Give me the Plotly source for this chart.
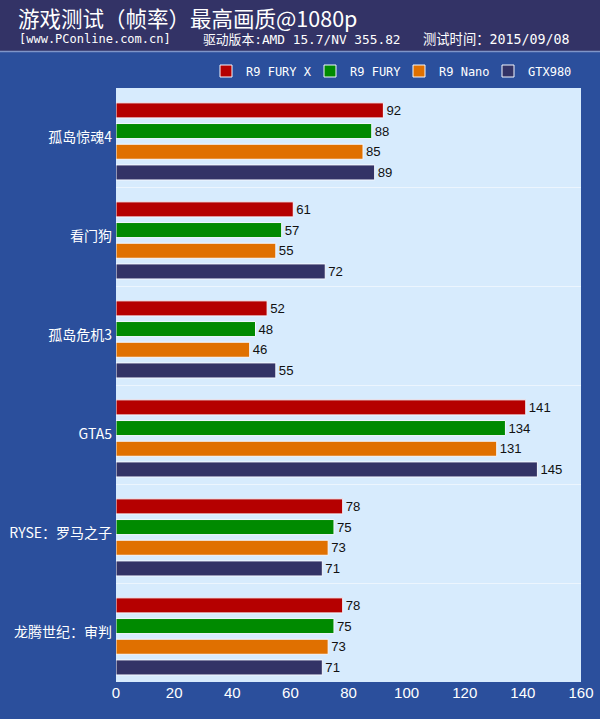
import plotly.graph_objects as go

games = ["孤岛惊魂4", "看门狗", "孤岛危机3", "GTA5", "RYSE：罗马之子", "龙腾世纪：审判"]
series_names = ["R9 FURY X", "R9 FURY", "R9 Nano", "GTX980"]
fury_x = [92, 61, 52, 141, 78, 78]
fury = [88, 57, 48, 134, 75, 75]
nano = [85, 55, 46, 131, 73, 73]
gtx980 = [89, 72, 55, 145, 71, 71]
series_values = [fury_x, fury, nano, gtx980]
series_colors = ["#B50000", "#008A00", "#E07000", "#333366"]
x_ticks = [0, 20, 40, 60, 80, 100, 120, 140, 160]

title_text = "游戏测试（帧率）最高画质@1080p"
sub1 = "[www.PConline.com.cn]"
sub2 = "驱动版本:AMD 15.7/NV 355.82"
sub3 = "测试时间：2015/09/08"

W, H = 600, 719
ML, MR, MT, MB = 116, 19, 88, 37
PW, PH = W - ML - MR, H - MT - MB


def px_x(px):
    return (px - ML) / PW


def px_y(py):
    return 1 + (MT - py) / PH


legend_left_px = [206, 310, 399, 488]
legend_ids = ["legend", "legend2", "legend3", "legend4"]

# bar placement within each category slot (category units)
bar_width = 0.152
bar_pitch = 0.209
first_offset = -0.35

fig = go.Figure()
for i, (name, vals, col, lid) in enumerate(zip(series_names, series_values, series_colors, legend_ids)):
    fig.add_trace(go.Bar(
        name=name, y=games, x=vals, orientation="h",
        width=bar_width, offset=first_offset + i * bar_pitch,
        marker=dict(color=col, line=dict(color="#F4F8FF", width=1)),
        text=[str(v) for v in vals], textposition="outside",
        textfont=dict(family="Liberation Sans Narrow, Liberation Sans, Arial", size=14, color="#111111"),
        cliponaxis=False, legend=lid,
    ))

legend_common = dict(
    orientation="h", xanchor="left", y=px_y(71), yanchor="middle",
    font=dict(family="DejaVu Sans Mono, monospace", size=12, color="white"),
    bgcolor="rgba(0,0,0,0)", borderwidth=0, itemwidth=30,
)

fig.update_layout(
    width=W, height=H,
    margin=dict(l=ML, r=MR, t=MT, b=MB, pad=0, autoexpand=False),
    paper_bgcolor="#2B4F9C",
    plot_bgcolor="#D7EBFD",
    barmode="overlay",
    showlegend=True,
    legend=dict(x=px_x(legend_left_px[0]), **legend_common),
    legend2=dict(x=px_x(legend_left_px[1]), **legend_common),
    legend3=dict(x=px_x(legend_left_px[2]), **legend_common),
    legend4=dict(x=px_x(legend_left_px[3]), **legend_common),
    xaxis=dict(
        range=[0, 160], tickvals=x_ticks, showgrid=False, zeroline=False,
        showline=False, ticks="", automargin=False,
        tickfont=dict(family="Liberation Sans Narrow, Liberation Sans, Arial", size=15, color="white"),
    ),
    yaxis=dict(
        type="category", range=[5.5, -0.5], tickson="boundaries",
        showgrid=True, gridcolor="#ECF5FE", gridwidth=1, ticks="",
        ticklabelstandoff=3, automargin=False,
        tickfont=dict(family="Noto Sans CJK SC, DejaVu Sans Mono", size=14, color="white"),
        showline=False, zeroline=False,
    ),
    shapes=[
        dict(type="rect", xref="paper", yref="paper", x0=px_x(0), x1=px_x(W),
             y0=px_y(51), y1=px_y(0),
             fillcolor="#333366", line=dict(width=0), layer="below"),
        dict(type="line", xref="paper", yref="paper", x0=px_x(0), x1=px_x(W),
             y0=px_y(51.5), y1=px_y(51.5),
             line=dict(color="#7F95C8", width=1.5)),
    ],
    annotations=[
        dict(text=title_text, xref="paper", yref="paper", showarrow=False,
             x=px_x(16), xanchor="left", y=px_y(18), yanchor="middle",
             font=dict(family="Noto Sans CJK SC", size=21.5, color="white")),
        dict(text=sub1, xref="paper", yref="paper", showarrow=False,
             x=px_x(17), xanchor="left", y=px_y(39), yanchor="middle",
             font=dict(family="DejaVu Sans Mono, Noto Sans CJK SC", size=12, color="white")),
        dict(text=sub2, xref="paper", yref="paper", showarrow=False,
             x=px_x(201), xanchor="left", y=px_y(39), yanchor="middle",
             font=dict(family="DejaVu Sans Mono, Noto Sans CJK SC", size=12.8, color="white")),
        dict(text=sub3, xref="paper", yref="paper", showarrow=False,
             x=px_x(572), xanchor="right", y=px_y(39), yanchor="middle",
             font=dict(family="DejaVu Sans Mono, Noto Sans CJK SC", size=13.3, color="white")),
    ],
)

fig.write_html("out.html", config={"displayModeBar": False},
               post_script="document.body.style.margin='0';")
